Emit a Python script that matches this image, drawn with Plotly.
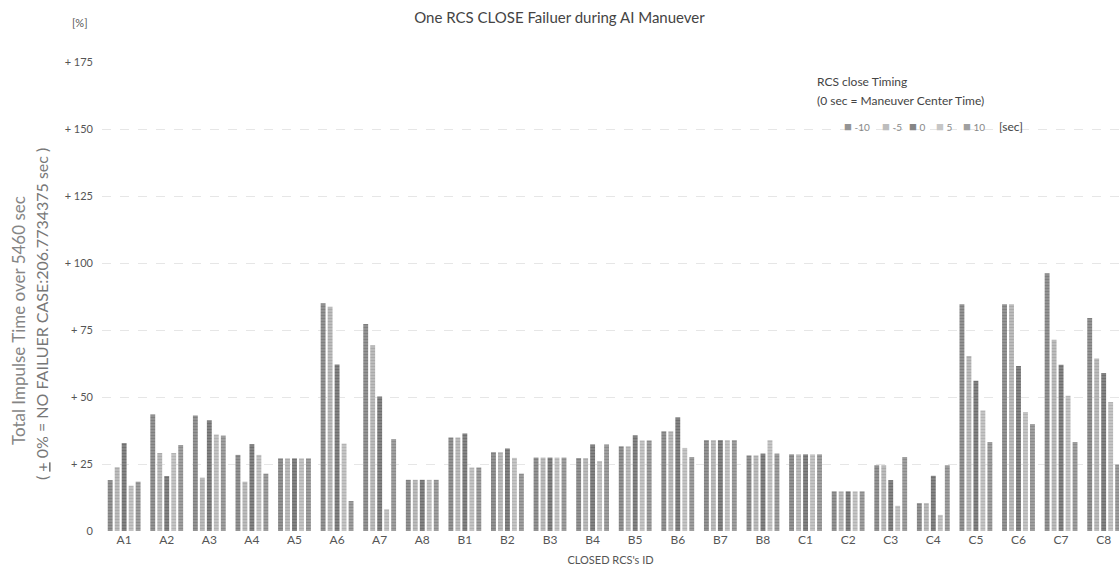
import plotly.graph_objects as go

categories = ["A1","A2","A3","A4","A5","A6","A7","A8",
              "B1","B2","B3","B4","B5","B6","B7","B8",
              "C1","C2","C3","C4","C5","C6","C7","C8"]

timing_labels = ["-10", "-5", "0", "5", "10"]

v_m10 = [19.0, 43.5, 43.1, 28.4, 27.1, 85.0, 77.2, 19.1,
         34.9, 29.4, 27.4, 27.2, 31.6, 37.2, 33.9, 28.2,
         28.6, 14.8, 24.5, 10.4, 84.6, 84.6, 96.2, 79.5]
v_m5  = [23.8, 29.1, 19.9, 18.4, 27.1, 83.7, 69.3, 19.1,
         34.9, 29.4, 27.4, 27.2, 31.6, 37.2, 33.9, 28.2,
         28.6, 14.8, 24.5, 10.4, 65.3, 84.6, 71.4, 64.4]
v_0   = [32.8, 20.5, 41.3, 32.4, 27.1, 62.1, 50.2, 19.1,
         36.4, 30.8, 27.4, 32.3, 35.7, 42.4, 33.9, 28.9,
         28.6, 14.8, 19.0, 20.6, 56.1, 61.6, 62.0, 59.0]
v_p5  = [16.9, 29.1, 36.0, 28.4, 27.1, 32.6, 8.1, 19.1,
         23.7, 27.3, 27.4, 26.1, 33.8, 31.0, 33.9, 33.9,
         28.6, 14.8, 9.4, 6.0, 45.0, 44.4, 50.5, 48.1]
v_p10 = [18.4, 32.1, 35.6, 21.4, 27.1, 11.2, 34.3, 19.1,
         23.7, 21.4, 27.4, 32.3, 33.8, 27.6, 33.9, 28.9,
         28.6, 14.8, 27.6, 24.5, 33.2, 39.9, 33.2, 24.8]

series = [v_m10, v_m5, v_0, v_p5, v_p10]

tick_vals = [0, 25, 50, 75, 100, 125, 150, 175]
tick_text = ["0", "+ 25", "+ 50", "+ 75", "+ 100", "+ 125", "+ 150", "+ 175"]

bg_colors = ["#949494", "#bdbdbd", "#858585", "#c6c6c6", "#a0a0a0"]
fg_colors = ["#6a6a6a", "#979797", "#5a5a5a", "#a0a0a0", "#767676"]

FONT = "Lato"
W, H = 1119, 583
L, R, T, B = 102, 0, 62, 52
PW, PH = W - L - R, H - T - B


def px(x):
    return (x - L) / PW


def py(y):
    return 1.0 - (y - T) / PH


fig = go.Figure()
for lab, vals, bg, fg in zip(timing_labels, series, bg_colors, fg_colors):
    fig.add_trace(go.Bar(
        x=categories, y=vals, name=lab,
        marker=dict(color=bg, line=dict(width=0),
                    pattern=dict(shape="-", fgcolor=fg, bgcolor=bg, size=3, solidity=0.4)),
    ))

fig.update_layout(
    width=W, height=H,
    margin=dict(l=L, r=R, t=T, b=B, autoexpand=False),
    paper_bgcolor="white", plot_bgcolor="white",
    barmode="group", bargap=0.18, bargroupgap=0.3,
    font=dict(family=FONT, color="#555555", size=12),
    title=dict(text="One RCS CLOSE Failuer during AI Manuever",
               x=0.5, xanchor="center", y=1 - 18 / H, yanchor="middle",
               font=dict(family=FONT, size=15, color="#444444")),
    showlegend=False,
    xaxis=dict(range=[-0.52, 23.36], showgrid=False, showline=False, ticks="",
               tickfont=dict(size=12, color="#555555"),
               title=dict(text="CLOSED RCS's ID", font=dict(size=11, color="#555555"), standoff=10)),
    yaxis=dict(range=[0, 175], tickvals=tick_vals, ticktext=tick_text,
               showgrid=True, gridcolor="#e6e6e6", griddash="dash", gridwidth=1,
               zeroline=False, showline=False, ticks="", ticklen=0, ticklabelstandoff=8,
               tickfont=dict(size=11, color="#555555")),
)

# y-axis title (two rotated lines)
fig.add_annotation(text="Total Impulse Time over 5460 sec", xref="paper", yref="paper",
                   x=px(18), y=py(321), xanchor="center", yanchor="middle", textangle=-90,
                   showarrow=False, font=dict(size=17, color="#858585"))
fig.add_annotation(text="( <u>+</u> 0% = NO FAILUER CASE:206.7734375 sec )", xref="paper", yref="paper",
                   x=px(41), y=py(314), xanchor="center", yanchor="middle", textangle=-90,
                   showarrow=False, font=dict(size=16, color="#777777"))

fig.add_annotation(text="[%]", xref="paper", yref="paper", x=px(80), y=py(22),
                   xanchor="center", yanchor="middle", showarrow=False,
                   font=dict(size=11, color="#555555"))
fig.add_annotation(text="RCS close Timing", xref="paper", yref="paper",
                   x=px(815), y=py(82), xanchor="left", yanchor="middle", showarrow=False,
                   font=dict(size=12, color="#444444"))
fig.add_annotation(text="(0 sec = Maneuver Center Time)", xref="paper", yref="paper",
                   x=px(815), y=py(100), xanchor="left", yanchor="middle", showarrow=False,
                   font=dict(size=12, color="#444444"))

# legend row built from the series labels and colours
legend_x = [842, 880, 907, 934, 961]
for lab, bg, lx in zip(timing_labels, bg_colors, legend_x):
    fig.add_annotation(text=f'<span style="color:{bg};font-size:13px">■</span> {lab}',
                       xref="paper", yref="paper",
                       x=px(lx), y=py(126), xanchor="left", yanchor="middle", showarrow=False,
                       font=dict(size=10, color="#888888"))
fig.add_annotation(text="[sec]", xref="paper", yref="paper",
                   x=px(997), y=py(126), xanchor="left", yanchor="middle", showarrow=False,
                   font=dict(size=12, color="#444444"))

fig.write_html("out.html", post_script="document.body.style.margin='0';",
               config={"displayModeBar": False})
